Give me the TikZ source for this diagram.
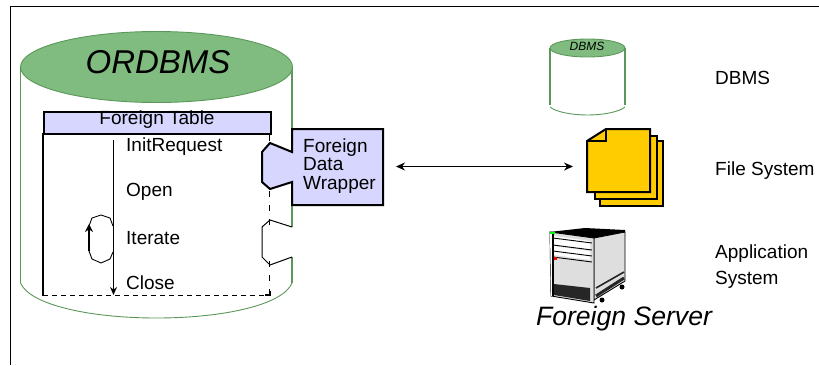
\documentclass[tikz,border=0pt]{standalone}
\usepackage{fontspec}
\setmainfont{Liberation Sans}
\usepackage{xcolor}
\usetikzlibrary{arrows.meta,shapes.geometric}
\definecolor{dbfill}{HTML}{80BC80}
\definecolor{dbline}{HTML}{5A985A}
\definecolor{tablefill}{HTML}{D6D6FF}
\definecolor{filefill}{HTML}{FFCC00}
\tikzset{
    plaintext/.style={inner sep=0pt, anchor=west, font=\fontsize{19}{19}\selectfont},
    dbside/.style={draw=dbline, line width=1.8pt},
    dbarc/.style={draw=dbline, line width=0.9pt},
    dbtop/.style={draw=dbline, line width=0.9pt, fill=dbfill, ellipse, inner sep=0pt},
    filepage/.style={draw=black, line width=2pt, fill=filefill},
    flowtip/.style={-{Stealth[length=8pt,width=7pt]}},
}
\begin{document}
\begin{tikzpicture}[x=1pt, y=-1pt]
    \useasboundingbox (0,0) rectangle (819,365);
    \draw [line width=0.9pt] (10.5,365) -- (10.5,6) -- (819,6);
    % big cylinder
    \draw [dbside] (20.5,67) -- (20.5,283);
    \draw [dbside] (292,67) -- (292,283);
    \draw [dbarc] (20.5,283) .. controls (30,305) and (90,318) .. (156.5,318) .. controls (223,318) and (283,305) .. (292,283);
    \node (ordbms) [dbtop, minimum width=272pt, minimum height=71pt] at (156.5,67) {};
    \node (ordbmstext) at (158,62) {\fontsize{33}{33}\selectfont\itshape ORDBMS};
    % foreign table
    \draw [dash pattern=on 5pt off 4pt, line width=1pt] (43,295) -- (269,295);
    \draw [dash pattern=on 6pt off 8pt, line width=1pt] (269,295) -- (269,133);
    \draw [line width=2pt] (43,133) -- (43,296);
    \draw [line width=2pt] (265,295) -- (270,295) -- (270,291);
    \node (table) [draw, line width=2pt, fill=tablefill, minimum width=227pt, minimum height=22pt, inner sep=0pt, anchor=north west] at (43,111) {};
    \node (tabletext) at (157,120) {\fontsize{19}{19}\selectfont Foreign Table};
    \coordinate (flowstart) at (113.5,140);
    \coordinate (flowend) at (113.5,295);
    \draw [flowtip, line width=1.2pt] (flowstart) -- (flowend);
    \foreach \y/\t in {147/InitRequest, 192/Open, 238/Iterate, 283/Close}
        \node (step\t) [plaintext] at (126,\y) {\t};
    % loop
    \draw [line width=0.9pt] (113,226) -- (110,218) -- (101,215) -- (92,218) -- (89,226);
    \draw [line width=0.9pt] (89,251) -- (92,259) -- (101,263) -- (110,259) -- (113,252);
    \draw [-{Stealth[length=8pt,width=8pt]}, line width=2.4pt] (89,251) -- (89,224);
    % wrapper and empty socket
    \fill [white] (262,227) rectangle (296,257);
    \draw [line width=1pt] (292,227) -- (270,220) -- (262,227) -- (262,257) -- (270,265) -- (292,257);
    \draw [line width=2pt, fill=tablefill] (292,129) -- (383,129) -- (383,205) -- (292,205) -- (292,182) -- (270,189) -- (262,182) -- (262,152) -- (270,143) -- (292,152) -- cycle;
    \node (wrapper) [inner sep=0pt, align=left, anchor=west, font=\fontsize{19}{18.5}\selectfont] at (303,166) {Foreign\\Data\\Wrapper};
    % small cylinder
    \draw [dbside] (550,48) -- (550,105);
    \draw [dbside] (625,48) -- (625,105);
    \draw [dbarc] (550,107) .. controls (556,112) and (572,115) .. (587.5,115) .. controls (603,115) and (619,112) .. (625,107);
    \node (dbms) [dbtop, minimum width=75pt, minimum height=18pt] at (587.5,48) {};
    \node (dbmstext) at (587,46) {\fontsize{12}{12}\selectfont\itshape DBMS};
    % files
    \draw [filepage] (600,141) rectangle (663,206);
    \draw [filepage] (595,136) rectangle (657,199);
    \draw [filepage] (606,129) -- (650,129) -- (650,192) -- (587,192) -- (587,141) -- cycle;
    \draw [line width=2pt] (606,129) -- (606,141) -- (587,141);
    \coordinate (wrapperport) at (396,166.5);
    \coordinate (filesport) at (573,166.5);
    \draw [{Stealth[length=9pt,width=8pt]}-{Stealth[length=9pt,width=8pt]}, line width=1.2pt] (wrapperport) -- (filesport);
    % server
    \fill [black] (549,232) -- (585,228) -- (625,230) -- (625,233) -- (594,239) -- cycle;
    \draw [line width=0.9pt, fill=black!13] (594,238) -- (625,232) -- (625,281) -- (594,300) -- cycle;
    \draw [line width=0.9pt, fill=black!13] (550,232) -- (594,238) -- (594,303) -- (551,296) -- cycle;
    \fill [white] (554,236) -- (590,241) -- (590,250) -- (554,245) -- cycle;
    \fill [white] (554,246) -- (590,251) -- (590,260) -- (554,255) -- cycle;
    \foreach \a/\b in {238/243, 245/250, 251/256, 257/262}
        \draw [line width=0.9pt] (553,\a) -- (592,\b);
    \fill [black!85] (554,284) -- (590,288) -- (590,301) -- (554,295) -- cycle;
    \fill [white] (550,232) -- (553,233) -- (553,296) -- (551,296) -- cycle;
    \draw [line width=1.2pt] (553,233) -- (553,296);
    \draw [line width=3pt, black!85] (596,296) -- (624,278);
    \draw [line width=1.6pt, black!85] (596,288) -- (624,272);
    \fill [black] (602,300) circle (2.5pt);
    \fill [black] (622,287) circle (2.5pt);
    \fill [green] (550,231.5) rectangle (555,233.5);
    \fill [red] (554,257) rectangle (557,260);
    \node (servertext) at (624,319) {\fontsize{26.6}{27}\selectfont\itshape Foreign Server};
    % legend
    \node (legenddbms) [plaintext] at (715,78) {DBMS};
    \node (legendfile) [plaintext] at (715,170.5) {File System};
    \node (legendapp) [plaintext] at (715,254) {Application};
    \node (legendsys) [plaintext] at (715,280) {System};
\end{tikzpicture}
\end{document}
